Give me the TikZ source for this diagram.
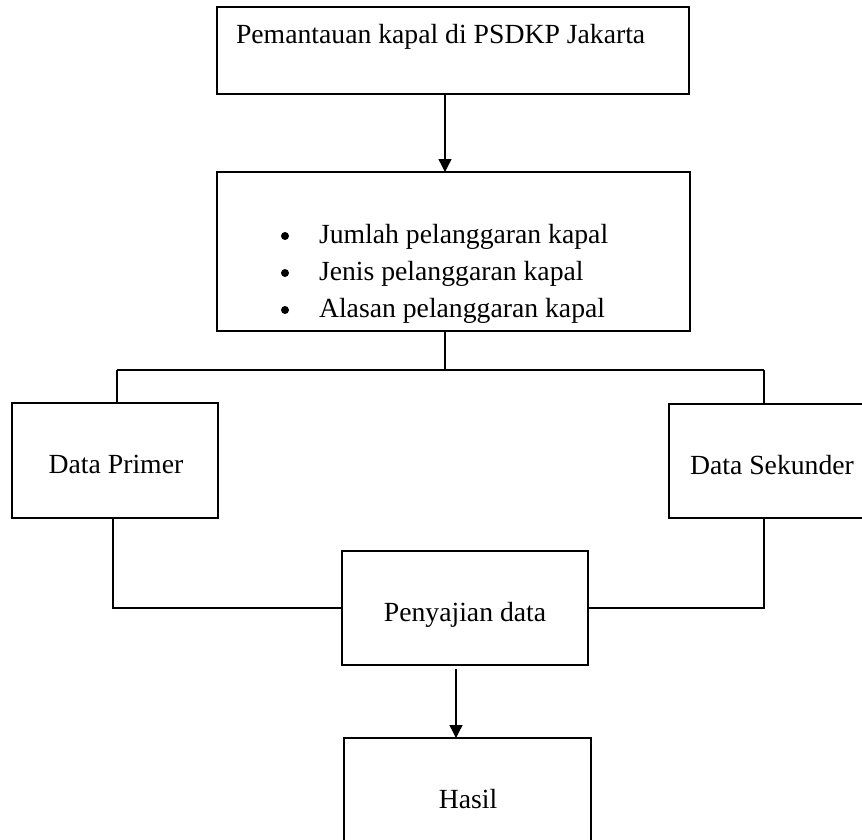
\documentclass[tikz,border=0pt]{standalone}
\usepackage{fontspec}
\setmainfont{Liberation Serif}
\usetikzlibrary{arrows.meta}
\begin{document}
\begin{tikzpicture}[x=1pt,y=-1pt,
  box/.style={draw=black, line width=1.2pt, inner sep=0pt, outer sep=0pt, anchor=north west},
  txt/.style={inner sep=0pt, outer sep=0pt, anchor=base west, font=\fontsize{27.7}{33}\selectfont},
  ctxt/.style={inner sep=0pt, outer sep=0pt, anchor=base, font=\fontsize{27.7}{33}\selectfont},
  dot/.style={circle, fill=black, inner sep=0pt, outer sep=0pt, minimum size=8pt},
  conn/.style={draw=black, line width=1.3pt},
  arr/.style={conn, -{Triangle[length=13pt,width=13pt]}}]
\useasboundingbox (0,0) rectangle (862,839);
\begin{scope}
\clip (0,0) rectangle (862,839);
% boxes
\node[box, minimum width=472pt, minimum height=87pt] (b1) at (217,7) {};
\node[box, minimum width=473pt, minimum height=159pt] (b2) at (217,172) {};
\node[box, minimum width=206pt, minimum height=115pt] (b3) at (12,403) {};
\node[box, minimum width=240pt, minimum height=114pt] (b4) at (669,404) {};
\node[box, minimum width=246pt, minimum height=114pt] (b5) at (342,551) {};
\node[box, minimum width=247pt, minimum height=130pt] (b6) at (344,738) {};
% texts
\node[txt] (t1) at (236,43) {Pemantauan kapal di PSDKP Jakarta};
\node[dot] (d1) at (285,236) {};
\node[dot] (d2) at (285,273) {};
\node[dot] (d3) at (285,310) {};
\node[txt] (l1) at (319,243) {Jumlah pelanggaran kapal};
\node[txt] (l2) at (319,280) {Jenis pelanggaran kapal};
\node[txt] (l3) at (319,317) {Alasan pelanggaran kapal};
\node[ctxt] (t3) at (116,473) {Data Primer};
\node[ctxt] (t4) at (772,474) {Data Sekunder};
\node[ctxt] (t5) at (465,621) {Penyajian data};
\node[ctxt] (t6) at (468,808) {Hasil};
% connectors
\coordinate (a1) at (445,94);
\draw[arr] (a1) -- (a1 |- b2.north);
\coordinate (s2) at (445,331);
\coordinate (hy) at (445,370);
\coordinate (lx) at (117,370);
\coordinate (rx) at (764,370);
\draw[conn] (s2) -- (hy);
\draw[conn] (lx) -- (rx);
\draw[conn] (lx) -- (lx |- b3.north);
\draw[conn] (rx) -- (rx |- b4.north);
\coordinate (p3) at (113,518);
\coordinate (c3) at (113,608);
\draw[conn] (p3) -- (c3) -- (c3 -| b5.west);
\coordinate (p4) at (764,518);
\coordinate (c4) at (764,608);
\draw[conn] (p4) -- (c4) -- (c4 -| b5.east);
\coordinate (a2) at (456,669);
\draw[arr] (a2) -- (a2 |- b6.north);
\end{scope}
\end{tikzpicture}
\end{document}
